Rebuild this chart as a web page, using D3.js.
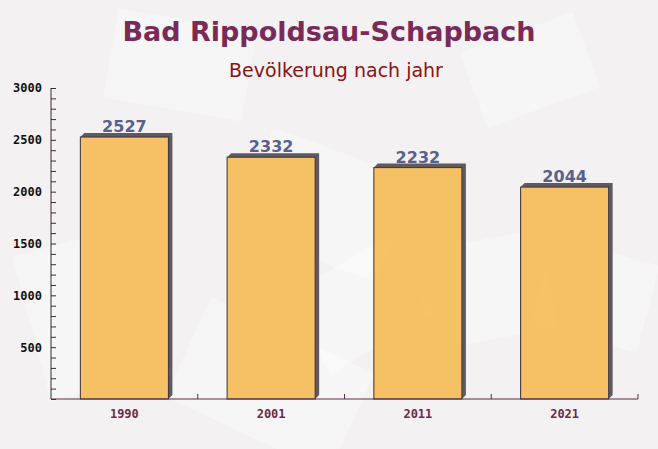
<!DOCTYPE html>
<html>
<head>
<meta charset="utf-8">
<script src="https://cdn.jsdelivr.net/npm/d3@7"></script>
<style>
  html, body { margin: 0; padding: 0; background: #f3f1f2; }
  svg { display: block; }
</style>
</head>
<body>
<svg id="chart" width="658" height="449"></svg>
<script>
// chart data
const years = ["1990", "2001", "2011", "2021"];
const population = [2527, 2332, 2232, 2044];
const yTicks = [500, 1000, 1500, 2000, 2500, 3000];

const width = 658, height = 449;
const margin = { top: 88, right: 20, bottom: 50, left: 51 };

const svg = d3.select("#chart");

// faint background envelopes
const deco = [
  [30, 240, 110, 150, -15], [250, 150, 150, 110, 20], [420, 240, 130, 100, -10],
  [110, 20, 140, 90, 10], [470, 30, 120, 80, -20], [180, 330, 180, 110, 25],
  [540, 250, 110, 90, 15], [300, 260, 120, 90, -30]
];
svg.append("g").selectAll("rect").data(deco).join("rect")
  .attr("x", d => d[0]).attr("y", d => d[1])
  .attr("width", d => d[2]).attr("height", d => d[3])
  .attr("transform", d => `rotate(${d[4]},${d[0] + d[2] / 2},${d[1] + d[3] / 2})`)
  .attr("fill", "#ffffff").attr("opacity", 0.35);

const x = d3.scaleBand().domain(years)
  .range([margin.left, width - margin.right]).paddingInner(0.4).paddingOuter(0.2);
const y = d3.scaleLinear().domain([0, 3000]).range([height - margin.bottom, margin.top]);

// title
svg.append("text").attr("x", 329).attr("y", 41).attr("text-anchor", "middle")
  .attr("font-family", "DejaVu Sans").attr("font-weight", "bold").attr("font-size", 27)
  .attr("fill", "#7a2a58").text("Bad Rippoldsau-Schapbach");
svg.append("text").attr("x", 336).attr("y", 77).attr("text-anchor", "middle")
  .attr("font-family", "DejaVu Sans").attr("font-size", 19)
  .attr("fill", "#8b1212").text("Bevölkerung nach jahr");

// bars with 3d shadow
const d = 4;
const bars = svg.append("g").selectAll("g").data(years).join("g");
bars.append("path")
  .attr("fill", "#5f5a62")
  .attr("d", (yr, i) => {
    const x0 = x(yr), x1 = x0 + x.bandwidth(), yt = y(population[i]), yb = y(0);
    return `M${x0},${yt} L${x0 + d},${yt - d} L${x1 + d},${yt - d} L${x1 + d},${yb - d} L${x1},${yb} L${x1},${yt} Z`;
  });
bars.append("rect")
  .attr("x", yr => x(yr))
  .attr("y", (yr, i) => y(population[i]))
  .attr("width", x.bandwidth())
  .attr("height", (yr, i) => y(0) - y(population[i]))
  .attr("fill", "#f6b850").attr("fill-opacity", 0.88)
  .attr("stroke", "#3a3035").attr("stroke-width", 1);
bars.append("text")
  .attr("x", yr => x(yr) + x.bandwidth() / 2)
  .attr("y", (yr, i) => y(population[i]) - 5)
  .attr("text-anchor", "middle")
  .attr("font-family", "DejaVu Sans").attr("font-weight", "bold").attr("font-size", 16)
  .attr("fill", "#5a5f8c")
  .text((yr, i) => population[i]);

// y axis
const yAxis = svg.append("g")
  .attr("transform", `translate(${margin.left},0)`)
  .call(d3.axisLeft(y).tickValues(d3.range(0, 3001, 100)).tickSize(-5)
    .tickFormat(v => yTicks.includes(v) ? v : ""));
yAxis.selectAll("text").attr("x", -9)
  .attr("font-family", "DejaVu Sans Mono").attr("font-weight", "bold").attr("font-size", 12)
  .attr("fill", "#111");
yAxis.selectAll("line,path").attr("stroke", "#3a2a35");
yAxis.select(".domain").attr("d", `M0,${y(3000)}V${y(0)}`);

// x axis
const xAxis = svg.append("g")
  .attr("transform", `translate(0,${y(0)})`)
  .call(d3.axisBottom(x).tickSize(0).tickPadding(10));
xAxis.select(".domain").attr("stroke", "#5a2a4a")
  .attr("d", `M${margin.left},0H${width - margin.right}`);
xAxis.selectAll("text")
  .attr("font-family", "DejaVu Sans Mono").attr("font-weight", "bold").attr("font-size", 12)
  .attr("fill", "#6b2a4a");
// boundary ticks between categories
const step = x.step();
svg.append("g").selectAll("line").data(years).join("line")
  .attr("x1", yr => x(yr) + x.bandwidth() + step * 0.2)
  .attr("x2", yr => x(yr) + x.bandwidth() + step * 0.2)
  .attr("y1", y(0) - 5).attr("y2", y(0))
  .attr("stroke", "#5a2a4a");
</script>
</body>
</html>
